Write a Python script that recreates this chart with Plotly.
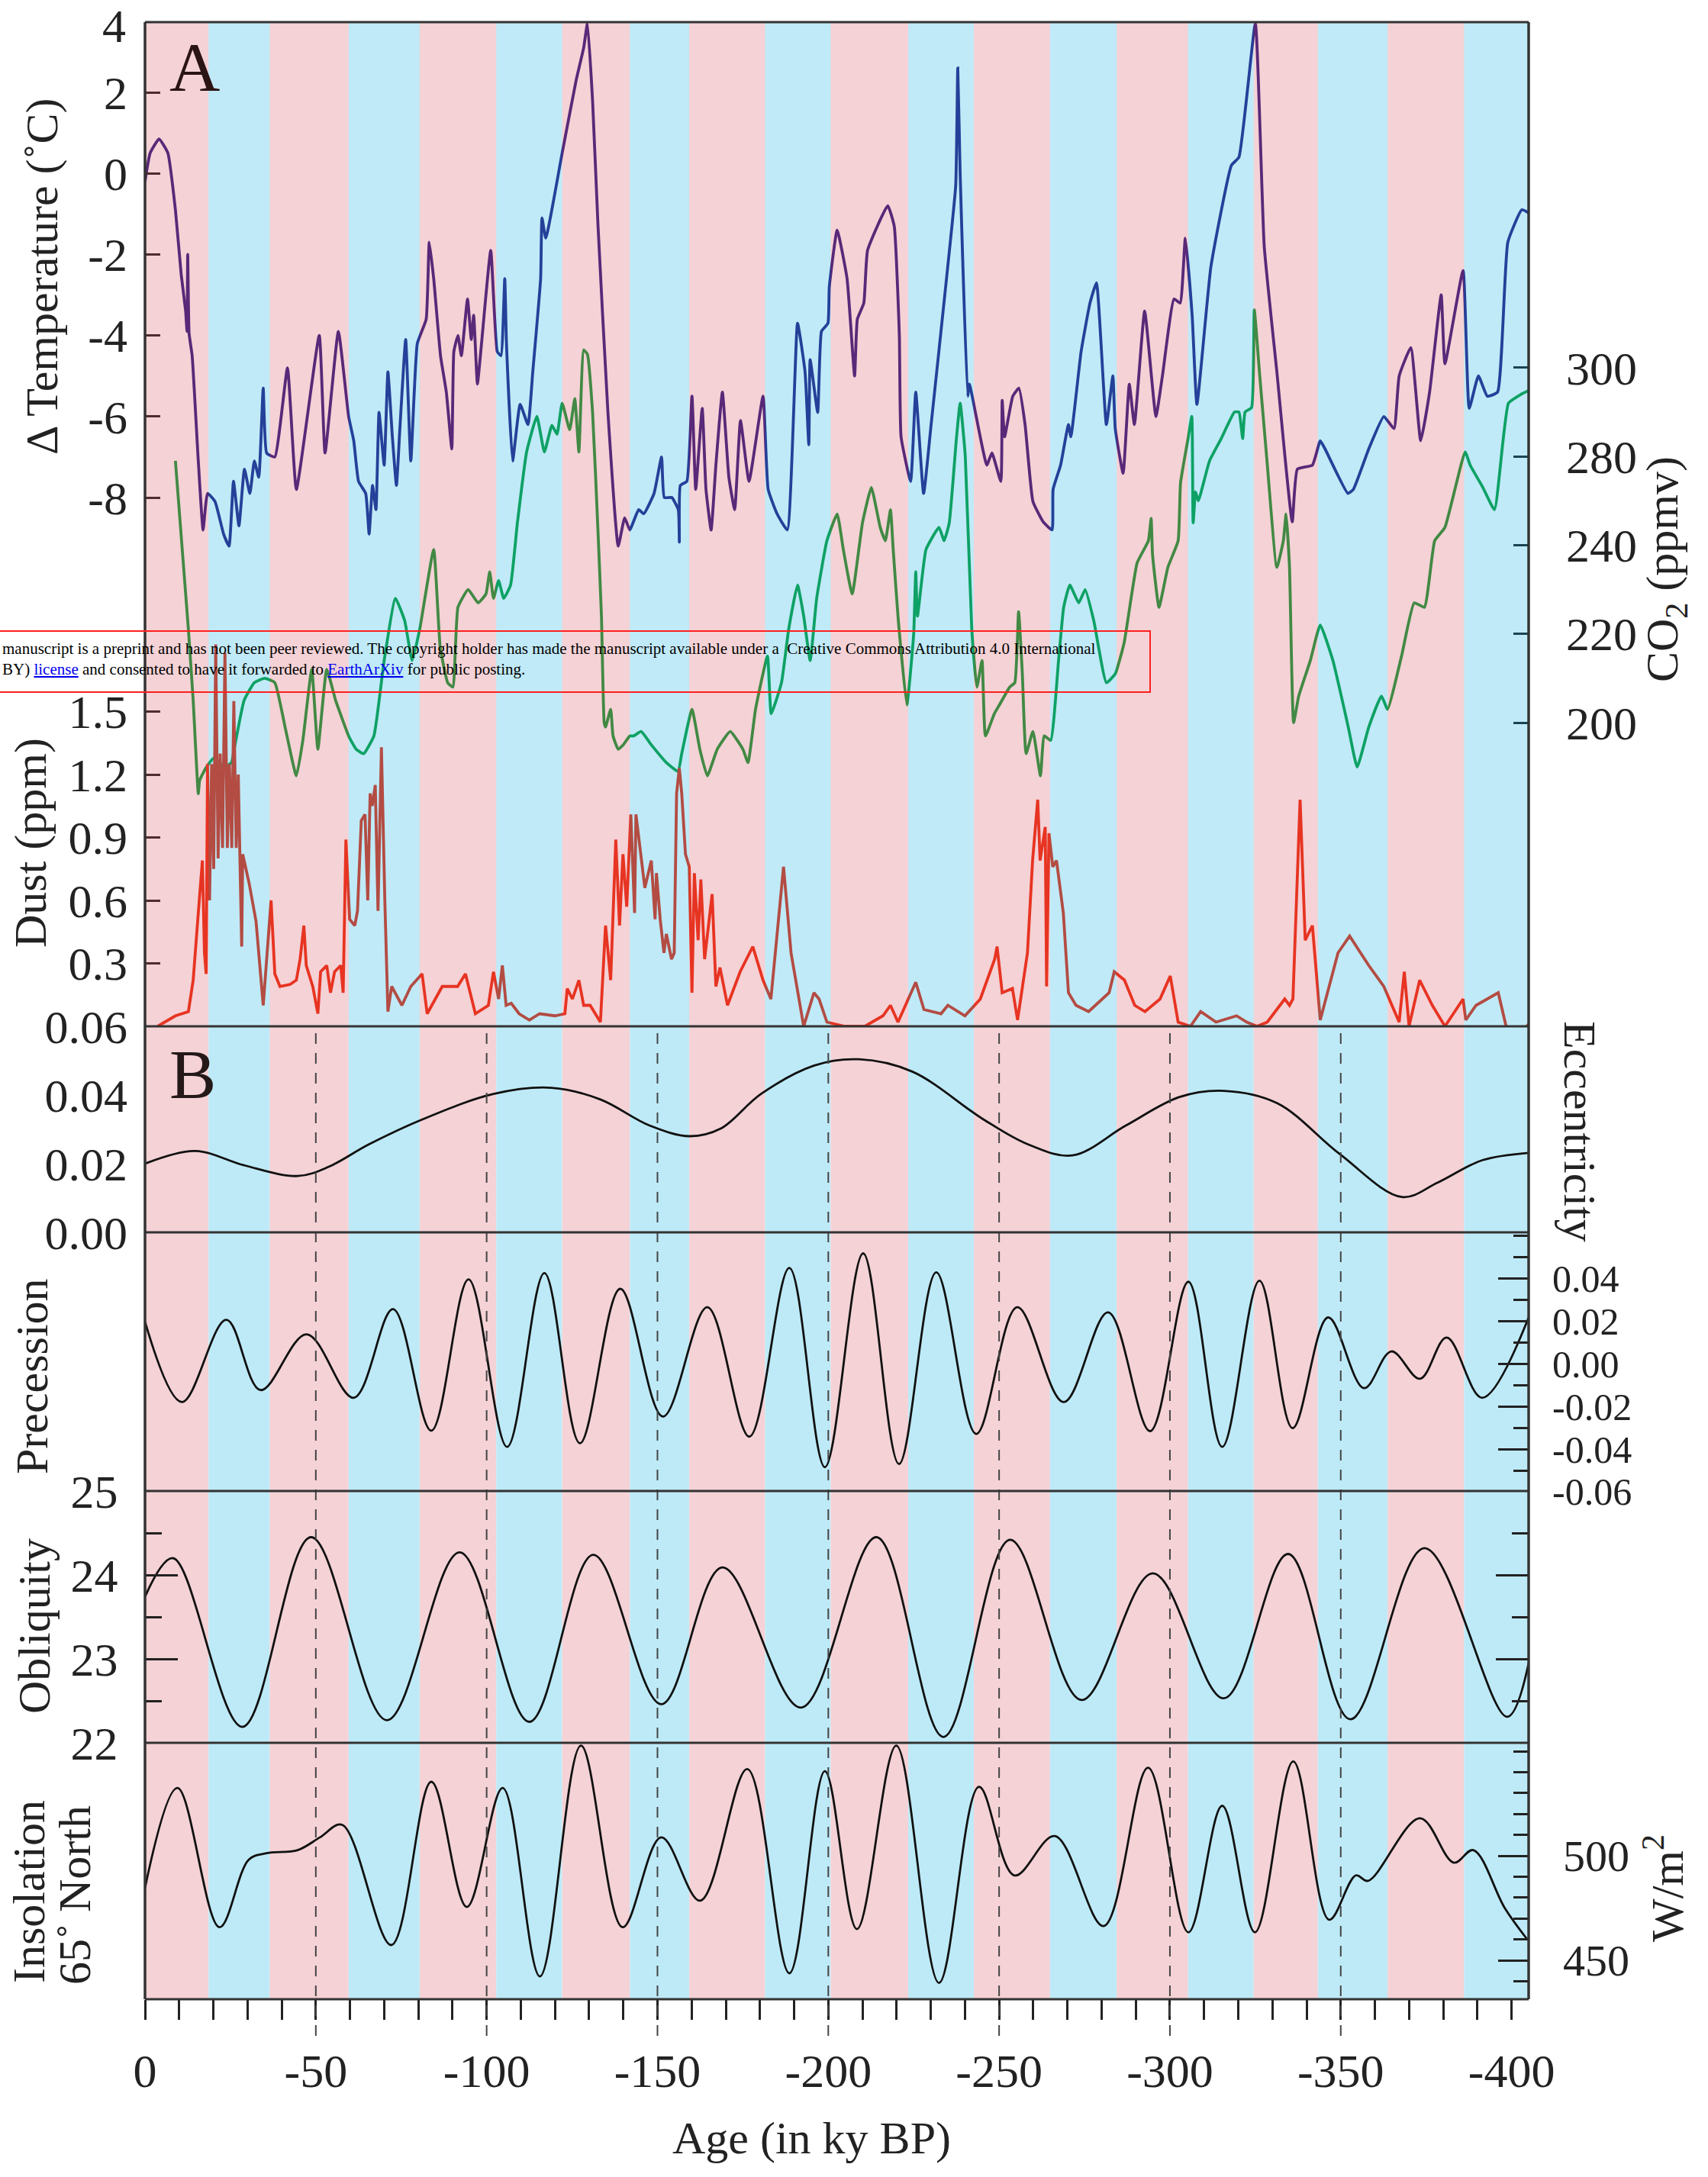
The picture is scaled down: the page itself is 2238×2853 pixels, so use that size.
import plotly.graph_objects as go

# ------------------------------------------------------------------ data
# glacial / interglacial band edges (ky BP, negative = past); bands alternate pink, blue, pink ...
band_edges = [0, -18.6, -36.5, -59.6, -80.4, -102.8, -122.1, -141.9, -159.3, -181.5, -200.7,
              -223.4, -242.6, -264.9, -284.4, -305.3, -324.5, -343.3, -363.7, -386.1, -405]

temp_age = [0, -1.5, -4.1, -6.7, -8.9, -10.6, -11.9, -12.3, -12.5, -12.9, -13.8, -15.6, -17.0, -18.3,
            -20.5, -23.0, -24.6, -25.9, -27.5, -29.1, -30.7, -32.0, -33.3, -34.6, -35.6, -38.0, -41.7,
            -44.3, -51.0, -52.7, -56.6, -59.6, -61.1, -62.5, -64.6, -65.6, -66.6, -67.6, -68.5, -70.0,
            -71.1, -72.4, -73.6, -74.6, -76.3, -77.8, -79.7, -82.3, -83.2, -84.5, -86.5, -88.2, -89.8,
            -90.4, -91.6, -92.6, -94.4, -95.5, -96.2, -97.3, -98.5, -101.2, -103.1, -104.2, -105.3,
            -105.8, -107.6, -109.8, -112.1, -113.5, -115.8, -116.2, -117.3, -122.1, -126.2, -128.4,
            -129.5, -131.0, -132.6, -135.5, -138.5, -140.4, -141.9, -144.5, -146.0, -149.0, -151.2,
            -152.0, -154.2, -156.1, -156.4, -156.7, -158.6, -160.1, -161.2, -163.1, -164.2, -165.7,
            -167.1, -169.0, -170.9, -172.6, -174.3, -176.8, -180.9, -182.4, -185.0, -188.0, -191.0,
            -193.2, -194.3, -194.7, -196.9, -198.0, -199.9, -200.3, -202.6, -205.5, -207.7, -208.5,
            -210.4, -211.5, -217.4, -219.3, -220.8, -221.3, -224.1, -225.6, -227.9, -230.1, -234.6,
            -237.3, -237.9, -238.6, -240.8, -241.3, -246.4, -247.9, -250.5, -250.9, -251.6, -254.0,
            -255.8, -257.6, -259.9, -262.9, -265.5, -265.8, -268.0, -270.3, -271.0, -274.0, -276.6,
            -278.5, -281.4, -283.3, -284.0, -286.3, -288.1, -289.6, -292.6, -295.9, -297.8, -301.2,
            -303.0, -304.5, -306.5, -307.9, -312.0, -318.0, -320.2, -325.0, -327.6, -331.3, -335.8,
            -337.3, -341.7, -344.0, -345.4, -352.1, -353.7, -358.2, -362.6, -365.6, -367.1, -370.5,
            -373.4, -376.0, -379.4, -380.5, -385.8, -387.6, -390.3, -392.9, -395.9, -398.9, -403.0,
            -405.5]
temp_val = [-0.2, 0.5, 0.85, 0.5, -0.9, -2.5, -3.4, -3.9, -2.0, -3.95, -4.5, -7.1, -8.8, -7.9,
            -8.1, -8.9, -9.2, -7.6, -8.7, -7.3, -7.9, -7.1, -7.5, -5.3, -6.9, -7.0, -4.8,
            -7.8, -4.0, -6.9, -3.9, -6.0, -6.6, -7.6, -7.9, -8.9, -7.7, -8.3, -5.9, -7.2,
            -4.9, -6.5, -7.7, -6.3, -4.1, -7.1, -4.2, -3.6, -1.7, -2.6, -4.5, -5.4, -6.8,
            -4.4, -4.0, -4.5, -3.1, -4.1, -3.5, -5.2, -4.2, -1.9, -4.4, -4.5, -2.6,
            -4.2, -7.1, -5.7, -6.2, -4.9, -2.6, -1.1, -1.6, 0.5, 2.3, 3.1,
            3.7, 1.8, -1.3, -5.9, -9.2, -8.5, -8.8, -8.3, -8.4, -7.9, -7.0,
            -8.0, -8.0, -8.3, -9.1, -7.7, -7.6, -5.5, -7.8, -5.8, -7.8, -8.8,
            -7.2, -5.4, -7.5, -8.3, -6.1, -7.6, -5.5, -7.8, -8.4, -8.8, -3.7,
            -4.9, -6.7, -4.6, -5.9, -3.9, -3.7, -2.8, -1.4, -2.6, -5.0, -3.6,
            -3.2, -1.9, -0.8, -1.3, -4.0, -6.5, -7.6, -5.4, -7.9, -6.2, -2.6,
            -0.3, 2.6, 0.0, -5.5, -5.2, -7.2, -6.9, -7.6, -5.6, -6.5, -5.5,
            -5.3, -6.2, -8.1, -8.6, -8.8, -7.8, -7.2, -6.2, -6.5, -4.4, -3.2,
            -2.7, -6.2, -5.0, -6.3, -7.4, -5.2, -6.2, -3.4, -6.0, -5.0, -3.1,
            -3.2, -1.6, -3.5, -5.7, -2.3, 0.2, 0.4, 3.7, -1.8, -4.9, -8.6,
            -7.3, -7.2, -6.6, -6.8, -7.9, -7.8, -6.8, -6.0, -6.3, -5.0, -4.3,
            -6.6, -5.4, -3.0, -4.7, -2.4, -5.8, -5.0, -5.5, -5.4, -1.7, -0.9,
            -1.0]

co2_age = [-8.9, -10.8, -12.7, -14.1, -15.6, -16.0, -18.0, -20.1, -23.1, -25.3, -26.1, -29.0, -32.0,
           -35.0, -38.0, -41.0, -44.3, -46.2, -48.8, -50.6, -53.2, -55.8, -59.6, -61.8, -64.0, -67.0,
           -70.0, -73.3, -76.0, -78.2, -80.4, -84.5, -86.4, -88.6, -90.1, -91.6, -94.6, -97.5, -99.8,
           -100.9, -102.0, -103.5, -105.0, -107.0, -109.0, -111.7, -114.7, -116.9, -119.1, -120.6,
           -122.1, -124.3, -125.8, -127.0, -128.4, -129.5, -131.0, -132.6, -133.6, -134.4, -134.8,
           -136.3, -137.0, -138.5, -140.0, -141.9, -143.0, -145.2, -148.2, -152.6, -156.0, -157.1,
           -160.1, -162.4, -164.6, -167.5, -171.3, -175.0, -176.5, -178.7, -182.2, -183.3, -186.3,
           -188.4, -191.0, -192.8, -194.7, -196.6, -199.6, -202.6, -204.4, -207.0, -210.0, -212.6,
           -215.2, -216.7, -218.2, -219.0, -220.5, -223.0, -225.0, -225.6, -226.1, -228.6, -232.4,
           -233.9, -235.4, -237.5, -238.6, -240.1, -242.0, -243.5, -245.0, -246.0, -248.6, -250.1,
           -253.1, -254.6, -255.7, -256.8, -257.9, -259.9, -262.1, -263.2, -265.1, -267.4, -268.9,
           -270.7, -273.3, -275.2, -277.7, -281.4, -284.0, -286.6, -290.4, -293.7, -294.5, -294.9,
           -296.8, -299.4, -302.4, -303.1, -305.3, -306.4, -306.8, -307.5, -308.3, -311.6, -315.0,
           -318.9, -320.2, -321.3, -322.0, -323.9, -324.7, -326.2, -328.3, -331.3, -333.2, -334.0,
           -335.0, -336.2, -337.7, -341.1, -344.0, -347.7, -352.2, -354.8, -358.2, -361.9, -363.7,
           -367.8, -371.5, -374.5, -377.5, -380.5, -386.4, -387.9, -391.6, -395.0, -399.1, -402.8,
           -405.5]
co2_val = [259, 240, 221, 205, 184, 187, 190, 192, 190, 191, 194, 205, 209,
           210, 209, 199, 188, 196, 212, 194, 212, 205, 197, 194, 193, 197,
           214, 228, 223, 214, 221, 239, 217, 209, 208, 226, 230, 227, 229,
           234, 228, 232, 228, 231, 245, 261, 269, 261, 267, 265,
           272, 266, 273, 261, 284, 283, 270, 243, 224, 200, 199,
           203, 197, 194, 195, 197, 197, 198, 195, 191, 189, 193,
           203, 194, 188, 194, 198, 194, 191, 203, 215, 202, 209,
           221, 231, 224, 214, 228, 241, 247, 239, 229, 245, 253,
           244, 241, 248, 239, 223, 204, 220, 234, 224, 239, 244,
           241, 245, 264, 272, 260, 221, 208, 214, 197, 202, 204,
           208, 209, 225, 211, 193, 198, 188, 197, 196, 214, 226,
           231, 227, 230, 223, 209, 211, 218, 236, 241, 246, 238,
           226, 235, 241, 254, 264, 269, 245, 252, 250, 259, 264,
           270, 270, 264, 270, 271, 293, 279, 260, 235, 241, 247,
           235, 200, 206, 214, 222, 214, 199, 190, 199, 206, 203,
           215, 227, 226, 241, 244, 261, 258, 253, 248, 272, 274,
           275]

dust_age = [-3.7, -8.9, -12.7, -14.1, -15.6, -16.8, -17.4, -17.9, -18.3, -18.9, -19.5, -20.1, -20.7,
            -21.4, -22.0, -22.7, -23.4, -24.1, -24.7, -25.4, -26.0, -26.7, -27.3, -27.7, -28.3, -28.6,
            -30.5, -32.5, -34.6, -36.9, -38.0, -39.5, -42.5, -44.3, -45.4, -46.5, -47.2, -49.1, -50.6,
            -51.4, -53.2, -54.3, -55.5, -57.3, -58.0, -58.8, -59.9, -61.4, -62.2, -63.3, -64.4, -65.2,
            -65.9, -66.5, -67.4, -68.2, -69.2, -70.2, -71.1, -72.2, -75.2, -77.8, -81.1, -82.6, -87.0,
            -91.5, -93.8, -96.7, -100.5, -102.0, -103.5, -104.6, -105.7, -107.2, -109.5, -112.5,
            -115.5, -120.0, -122.9, -123.6, -125.1, -127.0, -128.4, -130.3, -133.3, -134.8, -136.3,
            -137.8, -138.9, -139.9, -141.0, -142.2, -143.3, -143.7, -145.2, -146.3, -148.2, -149.3,
            -149.7, -150.8, -151.9, -152.6, -154.1, -154.9, -155.6, -156.4, -157.1, -158.2, -159.3,
            -160.1, -160.8, -161.9, -162.7, -163.8, -166.0, -167.1, -168.3, -170.5, -174.2, -177.9,
            -180.9, -183.2, -186.9, -189.1, -192.8, -195.8, -197.3, -199.6, -204.8, -210.7, -216.0,
            -218.2, -220.4, -225.6, -228.0, -233.0, -235.0, -240.0, -244.5, -248.7, -249.4, -250.9,
            -253.9, -255.4, -258.3, -259.8, -261.3, -262.0, -263.5, -263.9, -264.6, -265.7, -266.8,
            -268.8, -270.3, -272.5, -276.2, -282.2, -283.7, -286.7, -289.7, -292.7, -297.1, -300.1,
            -302.4, -306.0, -309.0, -313.5, -319.5, -322.5, -325.5, -328.5, -333.6, -335.0, -336.0,
            -338.1, -339.6, -341.7, -344.0, -346.2, -349.2, -352.6, -358.2, -362.6, -367.1, -368.6,
            -370.0, -373.1, -376.8, -380.5, -385.8, -386.6, -389.6, -396.1, -398.4, -402.8, -405.5]
dust_val = [0.0, 0.05, 0.07, 0.22, 0.54, 0.79, 0.35, 0.25, 1.25, 0.6, 1.25, 0.75, 1.82,
            0.8, 1.3, 0.85, 1.78, 0.85, 1.25, 0.85, 1.55, 0.85, 1.2, 0.8, 0.38, 0.82,
            0.68, 0.5, 0.1, 0.6, 0.25, 0.19, 0.2, 0.22, 0.32, 0.48, 0.29, 0.19, 0.06,
            0.26, 0.29, 0.16, 0.26, 0.29, 0.16, 0.89, 0.51, 0.48, 0.55, 0.98, 1.01, 0.6,
            1.11, 1.05, 1.15, 0.55, 1.33, 0.6, 0.07, 0.19, 0.1, 0.19, 0.25, 0.06, 0.19,
            0.19, 0.25, 0.06, 0.1, 0.26, 0.13, 0.29, 0.1, 0.11, 0.06, 0.03,
            0.06, 0.05, 0.06, 0.18, 0.13, 0.22, 0.1, 0.1, 0.02, 0.48, 0.22,
            0.89, 0.48, 0.82, 0.57, 1.01, 0.54, 1.01, 0.82, 0.66, 0.79, 0.51,
            0.73, 0.51, 0.35, 0.44, 0.32, 0.35, 1.11, 1.23, 1.11, 0.82, 0.76,
            0.16, 0.73, 0.41, 0.7, 0.32, 0.63, 0.19, 0.28, 0.1, 0.26, 0.38,
            0.22, 0.13, 0.76, 0.35, 0.0, 0.16, 0.13, 0.02, 0.0, 0.0, 0.05,
            0.1, 0.02, 0.21, 0.08, 0.06, 0.1, 0.05, 0.13, 0.32, 0.38, 0.16,
            0.18, 0.03, 0.35, 0.79, 1.08, 0.79, 0.95, 0.19, 0.92, 0.76, 0.79,
            0.54, 0.16, 0.1, 0.07, 0.16, 0.26, 0.22, 0.1, 0.07, 0.13, 0.24,
            0.02, 0.0, 0.07, 0.02, 0.05, 0.02, 0.0, 0.02, 0.13, 0.1, 0.13,
            1.08, 0.41, 0.48, 0.03, 0.16, 0.35, 0.43, 0.29, 0.19, 0.02, 0.26,
            0.0, 0.22, 0.1, 0.0, 0.13, 0.03, 0.1, 0.16, 0.0, -0.03, 0.02]

ecc_age = [0, -14.7, -29.1, -44.7, -53.8, -65.5, -81.2, -102.0, -119.0, -133.3, -147.7, -159.4,
           -168.5, -180.3, -195.9, -208.9, -224.6, -245.4, -258.5, -271.5, -287.1, -302.8, -315.8,
           -331.4, -349.7, -367.9, -378.4, -391.4, -405.5]
ecc_val = [0.0200, 0.0237, 0.0195, 0.0164, 0.0191, 0.0256, 0.0329, 0.0403, 0.0421, 0.0387, 0.0311,
           0.0280, 0.0302, 0.0403, 0.0486, 0.0504, 0.0468, 0.0329, 0.0256, 0.0224, 0.0311, 0.0394,
           0.0412, 0.0376, 0.0228, 0.0103, 0.0145, 0.0210, 0.0232]

prec_age = [0, -10.8, -23.8, -33.8, -47.3, -61.1, -72.6, -83.8, -94.7, -106.0, -116.9, -127.3,
            -139.1, -151.6, -164.6, -176.9, -188.6, -199.0, -210.2, -220.7, -231.6, -243.3, -255.3,
            -268.9, -281.9, -294.2, -305.4, -315.3, -326.2, -335.9, -346.3, -356.8, -364.8, -373.2,
            -381.0, -391.4, -405.0]
prec_val = [0.0196, -0.0180, 0.0205, -0.0124, 0.0137, -0.0160, 0.0255, -0.0314, 0.0394, -0.0390,
            0.0424, -0.0373, 0.0350, -0.0248, 0.0264, -0.0342, 0.0448, -0.0485, 0.0516, -0.0470,
            0.0427, -0.0329, 0.0264, -0.0180, 0.0240, -0.0316, 0.0383, -0.0390, 0.0388, -0.0302,
            0.0216, -0.0115, 0.0057, -0.0071, 0.0122, -0.0160, 0.0216]

obl_age = [0, -8.2, -28.5, -48.6, -70.8, -92.1, -112.5, -131.2, -151.1, -169.0, -192.0, -214.1,
           -233.7, -253.2, -274.1, -295.0, -315.8, -334.6, -352.8, -374.5, -398.7, -405.0]
obl_val = [23.74, 24.20, 22.19, 24.45, 22.27, 24.27, 22.25, 24.24, 22.46, 24.09, 22.42, 24.45,
           22.07, 24.42, 22.51, 24.02, 22.53, 24.25, 22.28, 24.32, 22.31, 22.95]

ins_age = [0, -9.5, -21.8, -30.4, -35.6, -44.7, -51.2, -57.7, -72.1, -83.8, -94.2, -104.7, -115.6,
           -127.6, -139.8, -151.1, -162.5, -176.3, -188.6, -199.0, -208.4, -219.9, -232.4, -244.1,
           -254.5, -266.3, -280.6, -293.6, -305.4, -315.3, -324.9, -336.1, -346.6, -354.4, -358.0,
           -373.2, -383.1, -388.8, -398.0, -404.4]
ins_val = [484.6, 532.4, 465.8, 498.2, 501.2, 502.7, 508.8, 514.8, 457.3, 535.4, 475.5, 532.4, 442.3,
           552.7, 465.8, 508.8, 478.5, 541.5, 443.8, 540.5, 464.9, 552.7, 439.2, 533.0,
           490.6, 509.4, 466.4, 542.1, 463.4, 523.9, 463.4, 545.1, 469.4, 490.6, 488.0,
           517.9, 496.7, 502.7, 475.0, 460.4]

x_tick_vals = list(range(0, -410, -10))
x_tick_text = [str(v) if v % 50 == 0 else "" for v in x_tick_vals]
dashed_ages = [-50, -100, -150, -200, -250, -300, -350]

# ------------------------------------------------------------------ layout geometry (pixels)
W, H = 2238, 2853
PL, PR, PT, PB = 190, 2003, 29, 2620
def px(X):
    return (X - PL) / (PR - PL)
def py(Y):
    return (PB - Y) / (PB - PT)

Y_A_BOT, Y_E_BOT, Y_P_BOT, Y_O_BOT = 1345, 1615, 1954, 2284
SERIF = "Liberation Serif, Times New Roman, serif"
TICKC = "#222222"
FRAME = "#333333"

fig = go.Figure()

def line_trace(x, y, axis, color, width, shape="spline", smooth=0.5):
    return go.Scatter(x=x, y=y, xaxis="x", yaxis=axis, mode="lines", hoverinfo="skip",
                      line=dict(color=color, width=width, shape=shape,
                                smoothing=smooth if shape == "spline" else None),
                      showlegend=False)

fig.add_trace(line_trace(co2_age, co2_val, "y2", "rgb(18,158,60)", 3.8, "spline", 0.4))
fig.add_trace(line_trace(dust_age, dust_val, "y3", "rgb(238,44,15)", 3.8, "linear"))
fig.add_trace(line_trace(temp_age, temp_val, "y", "rgb(48,29,130)", 3.8, "spline", 0.4))
fig.add_trace(line_trace(ecc_age, ecc_val, "y4", "#111111", 2.8, "spline", 1.0))
fig.add_trace(line_trace(prec_age, prec_val, "y5", "#111111", 2.8, "spline", 1.0))
fig.add_trace(line_trace(obl_age, obl_val, "y6", "#111111", 2.8, "spline", 1.0))
fig.add_trace(line_trace(ins_age, ins_val, "y7", "#111111", 2.8, "spline", 1.0))

tickfont = dict(family=SERIF, size=62, color=TICKC)
common_y = dict(showgrid=False, zeroline=False, anchor="x", tickfont=tickfont,
                tickcolor=TICKC, tickwidth=2.5, automargin=False)

t_rng = [(227.2 - Y_A_BOT) / 53.1, (227.2 - PT) / 53.1]
c_rng = [200 - (Y_A_BOT - 947) / 5.815, 200 + (947 - PT) / 5.815]
d_rng = [0, (Y_A_BOT - PT) / 275.0]
p_rng = [0.04 - (Y_P_BOT - 1675) / 2800.0, 0.04 + (1675 - Y_E_BOT) / 2800.0]
i_rng = [500 - (PB - 2432) / 2.74, 500 + (2432 - Y_O_BOT) / 2.74]

layout = dict(
    width=W, height=H,
    margin=dict(l=PL, r=W - PR, t=PT, b=H - PB, pad=0, autoexpand=False),
    paper_bgcolor="white", plot_bgcolor="white",
    showlegend=False,
    xaxis=dict(domain=[0, 1], range=[0, -405], anchor="y7", showgrid=False, zeroline=False,
               tickmode="array", tickvals=x_tick_vals, ticktext=x_tick_text,
               ticks="outside", ticklen=26, tickwidth=2.5, tickcolor=TICKC,
               tickfont=tickfont, ticklabelstandoff=14, showline=False, automargin=False),
    yaxis=dict(domain=[py(Y_A_BOT), 1], range=t_rng, side="left",
               tickmode="array", tickvals=[-8, -6, -4, -2, 0, 2],
               ticktext=["-8", "-6", "-4", "-2", "0", "2"],
               ticks="inside", ticklen=20, ticklabelstandoff=22, **common_y),
    yaxis2=dict(overlaying="y", range=c_rng, side="right",
                tickmode="array", tickvals=[200, 220, 240, 260, 280],
                ticktext=["200", "220", "240", "280", "300"],
                ticks="inside", ticklen=20, ticklabelstandoff=48, **common_y),
    yaxis3=dict(overlaying="y", range=d_rng, side="left",
                tickmode="array", tickvals=[0.3, 0.6, 0.9, 1.2, 1.5],
                ticktext=["0.3", "0.6", "0.9", "1.2", "1.5"],
                ticks="inside", ticklen=20, ticklabelstandoff=22, **common_y),
    yaxis4=dict(domain=[py(Y_E_BOT), py(Y_A_BOT)], range=[0, 0.06], side="left",
                tickmode="array", tickvals=[0, 0.02, 0.04, 0.06],
                ticktext=["0.00", "0.02", "0.04", "0.06"], ticks="",
                ticklabelstandoff=22, **common_y),
    yaxis5=dict(domain=[py(Y_P_BOT), py(Y_E_BOT)], range=p_rng, side="right",
                tickmode="array", tickvals=[p_rng[0], -0.04, -0.02, 0, 0.02, 0.04],
                ticktext=["-0.06", "-0.04", "-0.02", "0.00", "0.02", "0.04"],
                ticks="inside", ticklen=40, ticklabelstandoff=30,
                minor=dict(tickmode="linear", tick0=0, dtick=0.01, ticks="inside",
                           ticklen=20, tickwidth=2.5, tickcolor=TICKC, showgrid=False),
                showgrid=False, zeroline=False, anchor="x", tickcolor=TICKC, tickwidth=2.5,
                automargin=False, tickfont=dict(family=SERIF, size=50, color=TICKC)),
    yaxis6=dict(domain=[py(Y_O_BOT), py(Y_P_BOT)], range=[22, 25], side="left",
                tickmode="array", tickvals=[22, 23, 24, 25], ticktext=["22", "23", "24", "25"],
                ticks="inside", ticklen=43, ticklabelstandoff=22,
                showline=True, linecolor="rgba(0,0,0,0)", linewidth=1, mirror="ticks",
                minor=dict(tickmode="linear", tick0=22, dtick=0.5, ticks="inside",
                           ticklen=22, tickwidth=2.5, tickcolor=TICKC, showgrid=False),
                **common_y),
    yaxis7=dict(domain=[0, py(Y_O_BOT)], range=i_rng, side="right",
                tickmode="array", tickvals=[450, 500], ticktext=["450", "500"],
                ticks="inside", ticklen=40, ticklabelstandoff=44,
                minor=dict(tickmode="linear", tick0=0, dtick=10, ticks="inside",
                           ticklen=20, tickwidth=2.5, tickcolor=TICKC, showgrid=False),
                showgrid=False, zeroline=False, anchor="x", tickcolor=TICKC, tickwidth=2.5,
                automargin=False, tickfont=dict(family=SERIF, size=58, color=TICKC)),
)

shapes = []
# panel B bands: opaque, below the curves
for i in range(len(band_edges) - 1):
    pink = (i % 2 == 0)
    shapes.append(dict(type="rect", xref="x", yref="paper", x0=band_edges[i], x1=band_edges[i + 1],
                       y0=0, y1=py(Y_A_BOT), layer="below", line=dict(width=0),
                       fillcolor="rgb(244,210,214)" if pink else "rgb(190,234,247)"))
# panel A bands: translucent tint laid over the records
for i in range(len(band_edges) - 1):
    pink = (i % 2 == 0)
    shapes.append(dict(type="rect", xref="x", yref="paper", x0=band_edges[i], x1=band_edges[i + 1],
                       y0=py(Y_A_BOT), y1=1, layer="above", line=dict(width=0),
                       fillcolor="rgba(211,75,91,0.25)" if pink else "rgba(4,171,223,0.25)"))
# dashed marker lines in panel B
for a in dashed_ages:
    shapes.append(dict(type="line", xref="x", yref="paper", x0=a, x1=a,
                       y0=py(2668), y1=py(Y_A_BOT), layer="above",
                       line=dict(color="#444444", width=2, dash="14px,12px")))
# frame lines
for Y in [PT, Y_A_BOT, Y_E_BOT, Y_P_BOT, Y_O_BOT, PB]:
    shapes.append(dict(type="line", xref="paper", yref="paper", x0=0, x1=1, y0=py(Y), y1=py(Y),
                       layer="above", line=dict(color=FRAME, width=3)))
for xx in [0, 1]:
    shapes.append(dict(type="line", xref="paper", yref="paper", x0=xx, x1=xx, y0=0, y1=1,
                       layer="above", line=dict(color=FRAME, width=3.5)))
# preprint banner box
shapes.append(dict(type="rect", xref="paper", yref="paper", x0=px(-6), x1=px(1507),
                   y0=py(907), y1=py(827), layer="above", line=dict(color="#ff2020", width=2),
                   fillcolor="rgba(0,0,0,0)"))
layout["shapes"] = shapes

def ann(text, X, Y, size=60, angle=0, color="#222222", xanchor="center", yanchor="middle"):
    return dict(text=text, xref="paper", yref="paper", x=px(X), y=py(Y), showarrow=False,
                textangle=angle, xanchor=xanchor, yanchor=yanchor,
                font=dict(family=SERIF, size=size, color=color))

annotations = [
    # top temperature tick label "4" sits exactly on the frame line
    ann("4", 167, 34, size=62, color=TICKC, xanchor="right"),
    ann("A", 255, 88, size=92, color="#2b1414"),
    ann("B", 252, 1408, size=92, color="#241818"),
    ann("Δ Temperature (˚C)", 55, 362, angle=-90),
    ann("Dust (ppm)", 40, 1105, angle=-90),
    ann("CO<sub>2</sub> (ppmv)", 2182, 746, angle=-90),
    ann("Eccentricity", 2070, 1483, angle=90),
    ann("Precession", 42, 1804, angle=-90),
    ann("Obliquity", 45, 2131, angle=-90),
    ann("Insolation", 38, 2479, angle=-90),
    ann("65˚ North", 98, 2484, angle=-90),
    ann("W/m<sup>2</sup>", 2180, 2475, angle=-90),
    ann("Age (in ky BP)", 1063, 2802),
    ann("manuscript is a preprint and has not been peer reviewed. The copyright holder has made the "
        "manuscript available under a  Creative Commons Attribution 4.0 International",
        1, 850, size=21, color="#000000", xanchor="left"),
    ann("BY) <span style='color:#0000ee'><u>license</u></span> and consented to have it forwarded to "
        "<span style='color:#0000ee'><u>EarthArXiv</u></span> for public posting.",
        1, 877, size=21, color="#000000", xanchor="left"),
]
layout["annotations"] = annotations

fig.update_layout(**layout)
fig.write_html("out.html", config={"displayModeBar": False},
               post_script="document.body.style.margin='0px';")
